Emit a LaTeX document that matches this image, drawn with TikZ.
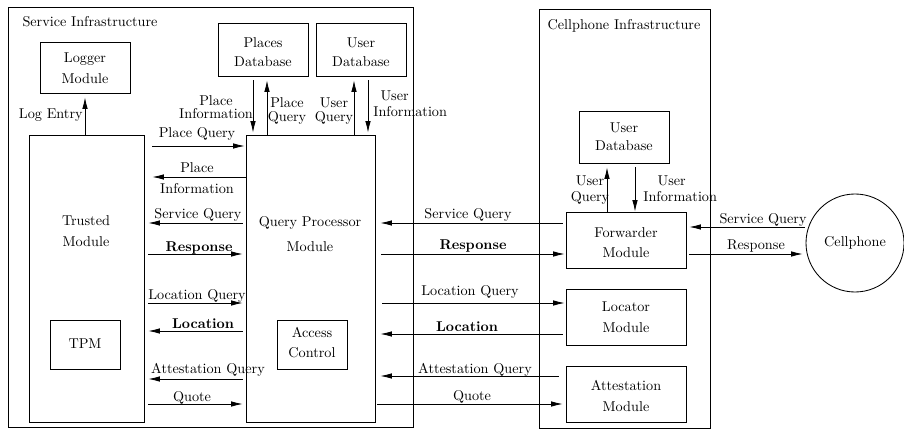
\documentclass[tikz,border=0pt]{standalone}
\usetikzlibrary{arrows.meta,fit,calc}
\begin{document}
\begin{tikzpicture}[x=0.703pt,y=-0.703pt,line width=0.6pt,
  box/.style={draw,rectangle,inner sep=0pt},
  txt/.style={align=center,inner sep=0pt},
  lbl/.style={inner sep=0pt},
  arr/.style={-{Latex[length=8pt,width=3.9pt]}}]
\useasboundingbox (0,0) rectangle (904,430);
% containers
\node[box,fit={(8,7)(413,427)}] (si) {};
\node[box,fit={(539,9)(710,428)}] (ci) {};
\node[lbl] (sititle) at (90,22) {Service Infrastructure};
\node[lbl] (cititle) at (624,26) {Cellphone Infrastructure};
% boxes
\node[box,fit={(40,42)(130,93)}] (logger) {};
\node[box,fit={(218,23)(308,76)}] (placesdb) {};
\node[box,fit={(316,23)(406,76)}] (userdb) {};
\node[box,fit={(29,135)(144,422)}] (trusted) {};
\node[box,fit={(246,135)(375,422)}] (qp) {};
\node[box,fit={(50,320)(120,369)}] (tpm) {};
\node[box,fit={(277,320)(347,369)}] (ac) {};
\node[box,fit={(579,111)(669,163)}] (cudb) {};
\node[box,fit={(566,212)(686,268)}] (fwd) {};
\node[box,fit={(566,289)(686,345)}] (loc) {};
\node[box,fit={(566,366)(686,422)}] (att) {};
\node[draw,circle,inner sep=0pt,minimum size=68.9pt] (cell) at (855,243) {Cellphone};
% box texts
\node[txt,font=\fontsize{10}{14.8}\selectfont] (tlogger) at (85,68) {Logger\\Module};
\node[txt,font=\fontsize{10}{13.4}\selectfont] (tplaces) at (263,52) {Places\\Database};
\node[txt,font=\fontsize{10}{13.4}\selectfont] (tuser) at (361,52) {User\\Database};
\node[txt,font=\fontsize{10}{14.8}\selectfont] (ttrusted) at (86,231) {Trusted\\Module};
\node[txt,font=\fontsize{10}{17.6}\selectfont] (tqp) at (310,234) {Query Processor\\Module};
\node[txt] (ttpm) at (85,344) {TPM};
\node[txt,font=\fontsize{10}{14}\selectfont] (tac) at (312,343) {Access\\Control};
\node[txt,font=\fontsize{10}{12.7}\selectfont] (tcudb) at (624,137) {User\\Database};
\node[txt,font=\fontsize{10}{14}\selectfont] (tfwd) at (626,243) {Forwarder\\Module};
\node[txt,font=\fontsize{10}{14.8}\selectfont] (tloc) at (626,317) {Locator\\Module};
\node[txt,font=\fontsize{10}{14.8}\selectfont] (tatt) at (626,396) {Attestation\\Module};
% row coordinates
\coordinate (yPQ) at (0,146);
\coordinate (yPI) at (0,177);
\coordinate (ySQ) at (0,223);
\coordinate (yR) at (0,254);
\coordinate (yLQ) at (0,303);
\coordinate (yL) at (0,331);
\coordinate (yAQ) at (0,379);
\coordinate (yQ) at (0,404);
\coordinate (zSQ) at (0,223);
\coordinate (zR) at (0,254);
\coordinate (zLQ) at (0,303);
\coordinate (zL) at (0,334);
\coordinate (zAQ) at (0,376);
\coordinate (zQ) at (0,404);
\coordinate (cSQ) at (0,227);
\coordinate (cR) at (0,254);
\coordinate (xPI) at (253,0);
\coordinate (xPQ) at (267,0);
\coordinate (xUQ) at (354,0);
\coordinate (xUI) at (368,0);
\coordinate (xLE) at (85,0);
\coordinate (xCQ) at (607,0);
\coordinate (xCI) at (635,0);
% left arrows
\draw[arr] ($(trusted.east|-yPQ)+(8,0)$) -- ($(qp.west|-yPQ)+(-1,0)$);
\draw[arr] (qp.west|-yPI) -- ($(trusted.east|-yPI)+(8,0)$);
\draw[arr] ($(qp.west|-ySQ)+(-3,0)$) -- ($(trusted.east|-ySQ)+(4,0)$);
\draw[arr] ($(trusted.east|-yR)+(4,0)$) -- ($(qp.west|-yR)+(-3,0)$);
\draw[arr] ($(trusted.east|-yLQ)+(4,0)$) -- ($(qp.west|-yLQ)+(-3,0)$);
\draw[arr] ($(qp.west|-yL)+(-3,0)$) -- ($(trusted.east|-yL)+(4,0)$);
\draw[arr] ($(qp.west|-yAQ)+(-3,0)$) -- ($(trusted.east|-yAQ)+(4,0)$);
\draw[arr] ($(trusted.east|-yQ)+(4,0)$) -- ($(qp.west|-yQ)+(-3,0)$);
% right arrows
\draw[arr] ($(fwd.west|-zSQ)+(-3,0)$) -- ($(qp.east|-zSQ)+(5,0)$);
\draw[arr] ($(qp.east|-zR)+(6,0)$) -- ($(fwd.west|-zR)+(-1,0)$);
\draw[arr] ($(qp.east|-zLQ)+(7,0)$) -- ($(loc.west|-zLQ)+(-1,0)$);
\draw[arr] ($(loc.west|-zL)+(-3,0)$) -- ($(qp.east|-zL)+(5,0)$);
\draw[arr] ($(att.west|-zAQ)+(-7,0)$) -- ($(qp.east|-zAQ)+(5,0)$);
\draw[arr] ($(qp.east|-zQ)+(2,0)$) -- ($(att.west|-zQ)+(-3,0)$);
% cellphone arrows
\draw[arr] ($(cell.west|-cSQ)+(-1,0)$) -- ($(fwd.east|-cSQ)+(3,0)$);
\draw[arr] ($(fwd.east|-cR)+(3,0)$) -- ($(cell.west|-cR)+(-3,0)$);
% vertical arrows
\draw[arr] ($(xPI|-placesdb.south)+(0,4)$) -- ($(xPI|-qp.north)+(0,-2)$);
\draw[arr] (xPQ|-qp.north) -- ($(xPQ|-placesdb.south)+(0,4)$);
\draw[arr] (xUQ|-qp.north) -- ($(xUQ|-userdb.south)+(0,4)$);
\draw[arr] ($(xUI|-userdb.south)+(0,4)$) -- ($(xUI|-qp.north)+(0,-2)$);
\draw[arr] (xLE|-trusted.north) -- ($(xLE|-logger.south)+(0,4)$);
\draw[arr] (xCQ|-fwd.north) -- ($(xCQ|-cudb.south)+(0,4)$);
\draw[arr] ($(xCI|-cudb.south)+(0,4)$) -- (xCI|-fwd.north);
% left labels
\node[lbl,anchor=base] (lPQ) at (197,138) {Place Query};
\node[txt,font=\fontsize{10}{15}\selectfont] (lPI) at (197,178) {Place\\Information};
\node[lbl,anchor=base] (lSQ) at (198,218) {Service Query};
\node[lbl,anchor=base] (lR) at (199,251) {\textbf{Response}};
\node[lbl,anchor=base] (lLQ) at (197,299) {Location Query};
\node[lbl,anchor=base] (lL) at (203,328) {\textbf{Location}};
\node[lbl,anchor=base] (lAQ) at (208,373) {Attestation Query};
\node[lbl,anchor=base] (lQ) at (192,401) {Quote};
% right labels
\node[lbl,anchor=base] (rSQ) at (468,218) {Service Query};
\node[lbl,anchor=base] (rR) at (473,250) {\textbf{Response}};
\node[lbl,anchor=base] (rLQ) at (470,295) {Location Query};
\node[lbl,anchor=base] (rL) at (467,331) {\textbf{Location}};
\node[lbl,anchor=base] (rAQ) at (475,373) {Attestation Query};
\node[lbl,anchor=base] (rQ) at (472,400) {Quote};
\node[lbl,anchor=base] (cSQl) at (763,223) {Service Query};
\node[lbl,anchor=base] (cRl) at (756,250) {Response};
% top labels
\node[lbl,anchor=base east] (lLE) at (83,119) {Log Entry};
\node[txt,font=\fontsize{10}{9.5}\selectfont] (tPI) at (216,107) {Place\\Information};
\node[txt,font=\fontsize{10}{9.5}\selectfont] (tPQ) at (287,111) {Place\\Query};
\node[txt,font=\fontsize{10}{9.5}\selectfont] (tUQ) at (334,111) {User\\Query};
\node[txt,align=left,font=\fontsize{10}{11.5}\selectfont,anchor=west] (tUI) at (373,104) {\hspace{5pt}User\\Information};
\node[txt,font=\fontsize{10}{11.3}\selectfont] (cUQ) at (590,190) {User\\Query};
\node[txt,align=left,font=\fontsize{10}{11.3}\selectfont,anchor=west] (cUI) at (643,189) {\hspace{10pt}User\\Information};
\end{tikzpicture}
\end{document}
